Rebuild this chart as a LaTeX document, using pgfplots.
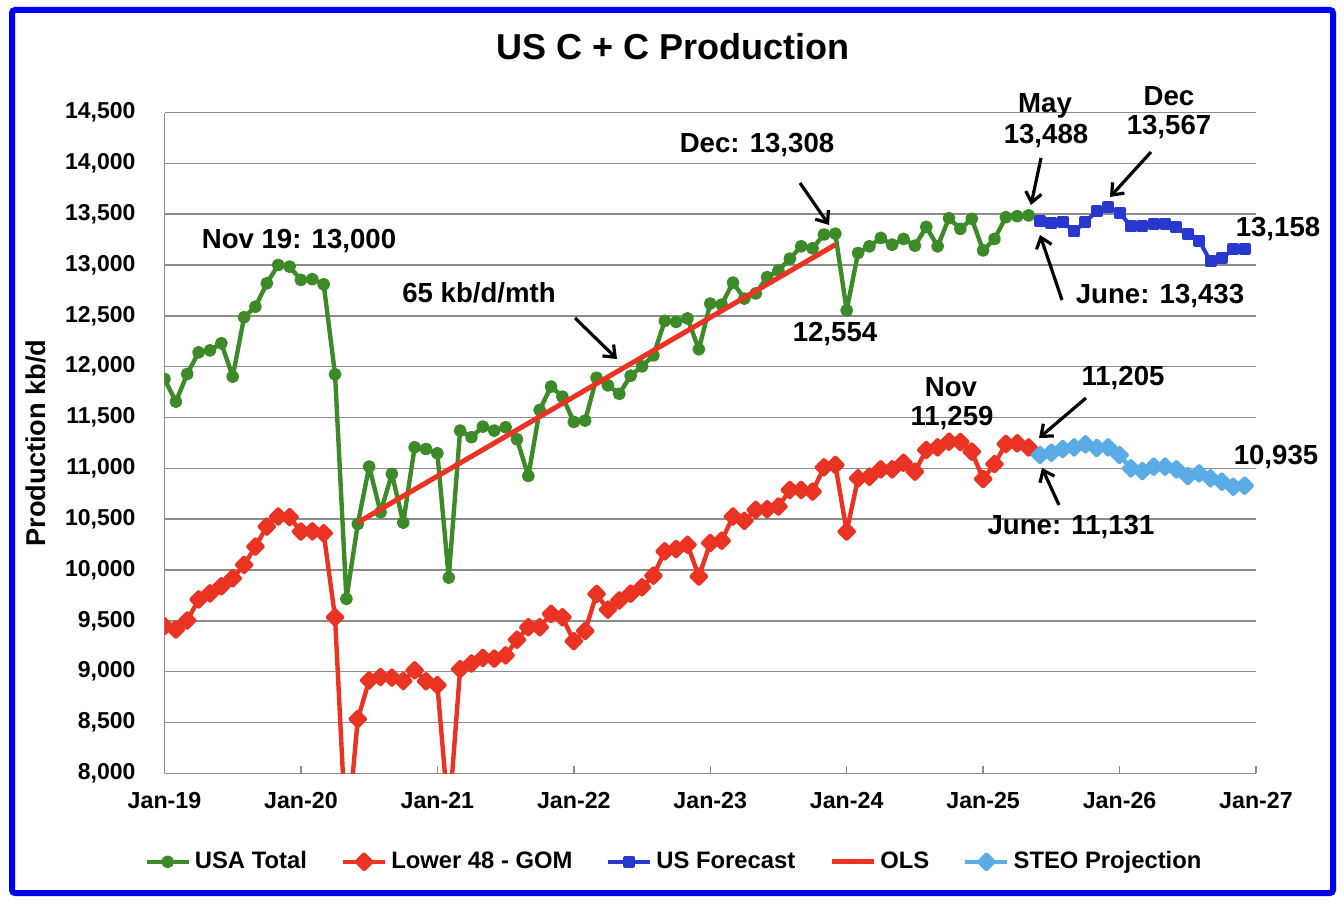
\documentclass[border=0pt]{standalone}
\usepackage{fontspec}
\setmainfont{Liberation Sans}
\usepackage{pgfplots}
\pgfplotsset{compat=1.18}
\usetikzlibrary{arrows.meta}

\definecolor{usgreen}{RGB}{60,138,40}
\definecolor{usred}{RGB}{234,51,35}
\definecolor{usblue}{RGB}{40,55,205}
\definecolor{steoblue}{RGB}{90,172,230}
\definecolor{frameblue}{RGB}{0,0,240}
\definecolor{gridgray}{RGB}{140,140,140}

\begin{document}
\begin{tikzpicture}
\useasboundingbox (0,0) rectangle (672pt,453pt);
\begin{axis}[
  at={(82.25pt,66.35pt)}, anchor=south west,
  scale only axis, width=545.75pt, height=330.4pt,
  xmin=0, xmax=96, ymin=8000, ymax=14500,
  axis lines*=left,
  axis line style={draw=gridgray, line width=0.7pt, -},
  ymajorgrids, grid style={draw=gridgray, line width=0.7pt},
  xtick={0,12,...,96},
  xticklabels={Jan-19,Jan-20,Jan-21,Jan-22,Jan-23,Jan-24,Jan-25,Jan-26,Jan-27},
  ytick={8000,8500,...,14500},
  scaled y ticks=false,
  /pgf/number format/assume math mode=true,
  yticklabel style={/pgf/number format/1000 sep={,}, font=\fontsize{11.5}{13}\selectfont\bfseries, xshift=-11pt},
  xticklabel style={font=\fontsize{11.6}{13}\selectfont\bfseries, yshift=-5.8pt},
  tick align=inside, major tick length=3.5pt,
  xtick style={draw=gridgray, line width=0.7pt},
  ytick style={draw=none},
  clip marker paths=true,
  ylabel={Production kb/d},
  every axis y label/.style={at={(axis description cs:-0.1182,0.5)}, rotate=90, anchor=center,
    font=\fontsize{13.6}{15}\selectfont\bfseries},
  title={US C + C Production},
  every axis title/.style={at={(axis description cs:0.4659,1.0991)}, anchor=center,
    font=\fontsize{18}{20}\selectfont\bfseries},
  legend columns=5,
  legend cell align=left,
  legend image code/.code={\draw[mark repeat=2,mark phase=2] plot coordinates {(0pt,0pt) (10.5pt,0pt) (21pt,0pt)};},
  legend style={at={(0.4677,-0.1340)}, anchor=center, draw=none, fill=none,
    font=\fontsize{11.9}{13}\selectfont\bfseries,
    /tikz/every even column/.append style={column sep=15pt}},
  line join=round,
]
% USA Total, Jan-19 (0) to May-25 (76)
\addplot[color=usgreen, line width=2.2pt, mark=*, mark size=2.1pt] coordinates {
 (0,11879) (1,11656) (2,11928) (3,12140) (4,12160) (5,12230) (6,11902) (7,12486)
 (8,12590) (9,12820) (10,13000) (11,12984) (12,12853) (13,12860) (14,12810) (15,11925)
 (16,9716) (17,10453) (18,11017) (19,10568) (20,10945) (21,10466) (22,11207) (23,11190)
 (24,11148) (25,9925) (26,11371) (27,11306) (28,11410) (29,11371) (30,11404) (31,11286)
 (32,10925) (33,11574) (34,11804) (35,11705) (36,11456) (37,11470) (38,11891) (39,11816)
 (40,11733) (41,11911) (42,12003) (43,12111) (44,12450) (45,12440) (46,12474) (47,12171)
 (48,12620) (49,12610) (50,12827) (51,12670) (52,12720) (53,12880) (54,12946) (55,13062)
 (56,13184) (57,13164) (58,13300) (59,13308) (60,12554) (61,13118) (62,13184) (63,13266)
 (64,13200) (65,13256) (66,13190) (67,13375) (68,13184) (69,13460) (70,13355) (71,13454)
 (72,13144) (73,13256) (74,13470) (75,13480) (76,13488)
};
\addlegendentry{USA Total}
% Lower 48 - GOM
\addplot[color=usred, line width=2.2pt, mark=square*, mark size=2.5pt, mark options={rotate=45}] coordinates {
 (0,9447) (1,9415) (2,9503) (3,9710) (4,9770) (5,9840) (6,9918) (7,10050)
 (8,10230) (9,10427) (10,10526) (11,10520) (12,10378) (13,10380) (14,10361) (15,9535)
 (16,7300) (17,8534) (18,8914) (19,8947) (20,8941) (21,8908) (22,9013) (23,8905)
 (24,8868) (25,7550) (26,9025) (27,9080) (28,9135) (29,9128) (30,9160) (31,9314)
 (32,9437) (33,9437) (34,9568) (35,9535) (36,9300) (37,9400) (38,9764) (39,9610)
 (40,9700) (41,9767) (42,9830) (43,9944) (44,10183) (45,10206) (46,10248) (47,9936)
 (48,10265) (49,10288) (50,10526) (51,10483) (52,10591) (53,10598) (54,10624) (55,10787)
 (56,10787) (57,10771) (58,11010) (59,11033) (60,10378) (61,10902) (62,10918) (63,10990)
 (64,10990) (65,11055) (66,10967) (67,11180) (68,11206) (69,11262) (70,11259) (71,11164)
 (72,10895) (73,11042) (74,11239) (75,11246) (76,11205)
};
\addlegendentry{Lower 48 - GOM}
% US Forecast, Jun-25 (77) to Dec-26 (95)
\addplot[color=usblue, line width=2pt, mark=square*, mark size=2pt] coordinates {
 (77,13433) (78,13410) (79,13425) (80,13330) (81,13425) (82,13530) (83,13567) (84,13515)
 (85,13380) (86,13380) (87,13405) (88,13405) (89,13370) (90,13305) (91,13240) (92,13035)
 (93,13068) (94,13155) (95,13158)
};
\addlegendentry{US Forecast}
% OLS trend, Jun-20 to Dec-23
\addplot[color=usred, line width=2.5pt] coordinates {(17,10467) (59,13200)};
\addlegendentry{OLS}
% STEO Projection
\addplot[color=steoblue, line width=2.2pt, mark=square*, mark size=2.5pt, mark options={rotate=45}] coordinates {
 (77,11131) (78,11153) (79,11190) (80,11206) (81,11236) (82,11200) (83,11206) (84,11131)
 (85,11000) (86,10973) (87,11016) (88,11016) (89,10990) (90,10924) (91,10950) (92,10902)
 (93,10868) (94,10819) (95,10829)
};
\addlegendentry{STEO Projection}
\end{axis}

% annotations, in pixel units of the 1344 x 906 reference
\begin{scope}[shift={(0pt,453pt)}, x=0.5pt, y=-0.5pt,
  font=\fontsize{13.8}{15}\selectfont\bfseries,
  arr/.style={draw=black, line width=1.6pt, -{Straight Barb[length=5pt,width=8pt]}}]
\node at (299,241) {Nov 19: 13,000};
\node at (479,293) {65 kb/d/mth};
\draw[arr] (575,318) -- (617,359);
\node at (757,145) {Dec: 13,308};
\draw[arr] (800,183) -- (829,225);
\node at (835,334) {12,554};
\node at (1045,106) {May};
\node at (1046,136) {13,488};
\draw[arr] (1041,158) -- (1031,205);
\node at (1169,96) {Dec};
\node at (1169,127) {13,567};
\draw[arr] (1151,152) -- (1110,197);
\node at (1278,229) {13,158};
\node at (1160,296) {June: 13,433};
\draw[arr] (1062,300) -- (1040,235);
\node at (951,387) {Nov};
\node at (952,418) {11,259};
\node at (1123,378) {11,205};
\draw[arr] (1086,398) -- (1039,438);
\node at (1276,457) {10,935};
\node at (1071,527) {June: 11,131};
\draw[arr] (1059,505) -- (1042,468);
\draw[line width=3pt, color=frameblue, rounded corners=1.5pt] (12,10) rectangle (1333,893);
\end{scope}
\end{tikzpicture}
\end{document}
